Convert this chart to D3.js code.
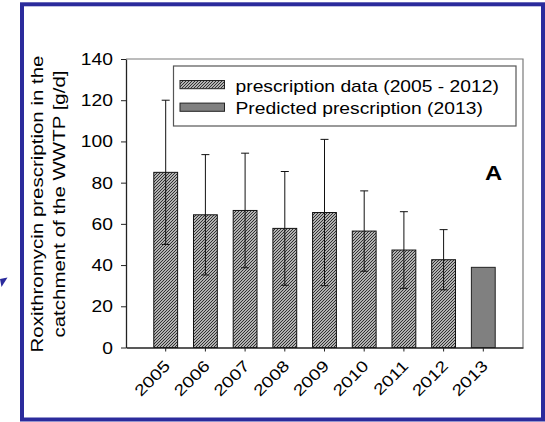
<!DOCTYPE html>
<html>
<head>
<meta charset="utf-8">
<script src="https://cdn.jsdelivr.net/npm/d3@7"></script>
<style>
  html, body { margin: 0; padding: 0; background: #fff; }
  svg { display: block; }
  text { font-family: "Liberation Sans", Arial, sans-serif; fill: #000; }
</style>
</head>
<body>
<svg id="chart" width="545" height="422"></svg>
<script>
// Roxithromycin prescription in the WWTP catchment, yearly means with SD
const years = ["2005", "2006", "2007", "2008", "2009", "2010", "2011", "2012", "2013"];
const prescriptionYears = ["2005", "2006", "2007", "2008", "2009", "2010", "2011", "2012"];
const prescriptionMean = [85.0, 64.4, 66.5, 57.8, 65.5, 56.5, 47.3, 42.6];
const prescriptionSD = [35.0, 29.2, 27.8, 27.6, 35.5, 19.5, 18.6, 14.6];
const predictedYears = ["2013"];
const predictedValue = [38.9];
const yTicks = [0, 20, 40, 60, 80, 100, 120, 140];
const legendLabels = ["prescription data (2005 - 2012)", "Predicted prescription (2013)"];
const yTitleLines = ["Roxithromycin prescription in the", "catchment of the WWTP [g/d]"];
const panelLabel = "A";

const svg = d3.select("#chart");
const S = 1.22; // horizontal glyph stretch used for all labels
const FS = 15.8;

const margin = { left: 126, right: 523, top: 59, bottom: 347.5 };

// outer blue frame
svg.append("rect")
  .attr("x", 22).attr("y", 4.3).attr("width", 521).attr("height", 415.2)
  .attr("fill", "#fff").attr("stroke", "#2b2b9c").attr("stroke-width", 4);

// small blue arrowhead at the left edge
svg.append("path")
  .attr("d", "M0,279 L7.5,277.5 L1.5,287 Z")
  .attr("fill", "#2b2b9c");

const defs = svg.append("defs");
const pat = defs.append("pattern")
  .attr("id", "hatch").attr("patternUnits", "userSpaceOnUse")
  .attr("width", 3).attr("height", 3);
pat.append("rect").attr("width", 3).attr("height", 3).attr("fill", "#ececec");
pat.append("path")
  .attr("d", "M-1,1 L1,-1 M0,3 L3,0 M2,4 L4,2")
  .attr("stroke", "#2a2a2a").attr("stroke-width", 1.15);

const x = d3.scaleBand()
  .domain(years)
  .range([margin.left, margin.right])
  .paddingInner(0.4)
  .paddingOuter(0.7);

const y = d3.scaleLinear()
  .domain([0, 140])
  .range([margin.bottom, margin.top]);

// top and right frame lines
svg.append("path")
  .attr("d", `M${margin.left},${margin.top} H${margin.right} V${margin.bottom}`)
  .attr("fill", "none").attr("stroke", "#7a7a7a").attr("stroke-width", 1.2);

// bars: measured data
svg.append("g").selectAll("rect")
  .data(prescriptionYears.map((d, i) => ({ year: d, v: prescriptionMean[i] })))
  .join("rect")
  .attr("x", d => x(d.year))
  .attr("y", d => y(d.v))
  .attr("width", x.bandwidth())
  .attr("height", d => y(0) - y(d.v))
  .attr("fill", "url(#hatch)")
  .attr("stroke", "#111").attr("stroke-width", 1);

// bar: predicted value
svg.append("g").selectAll("rect")
  .data(predictedYears.map((d, i) => ({ year: d, v: predictedValue[i] })))
  .join("rect")
  .attr("x", d => x(d.year))
  .attr("y", d => y(d.v))
  .attr("width", x.bandwidth())
  .attr("height", d => y(0) - y(d.v))
  .attr("fill", "#808080")
  .attr("stroke", "#222").attr("stroke-width", 1);

// error bars (mean ± SD)
const eb = svg.append("g").attr("stroke", "#111").attr("stroke-width", 1).attr("fill", "none");
prescriptionYears.forEach((yr, i) => {
  const cx = x(yr) + x.bandwidth() / 2;
  const lo = y(prescriptionMean[i] - prescriptionSD[i]);
  const hi = y(prescriptionMean[i] + prescriptionSD[i]);
  eb.append("path")
    .attr("d", `M${cx},${lo} V${hi} M${cx - 4},${hi} H${cx + 4} M${cx - 4},${lo} H${cx + 4}`);
});

// y axis
const yAxis = svg.append("g")
  .attr("transform", `translate(${margin.left},0)`)
  .call(d3.axisLeft(y).tickValues(yTicks).tickSize(5).tickSizeOuter(0));
yAxis.select(".domain").attr("stroke", "#222").attr("stroke-width", 1.3);
yAxis.selectAll(".tick line").attr("stroke", "#222");
yAxis.selectAll("text")
  .attr("x", null).attr("dy", "0.35em")
  .style("font-size", FS + "px")
  .style("font-family", "'Liberation Sans', Arial, sans-serif")
  .attr("fill", "#000")
  .attr("transform", `translate(-13,0) scale(${S},1)`);

// x axis
const xAxis = svg.append("g")
  .attr("transform", `translate(0,${margin.bottom})`)
  .call(d3.axisBottom(x).tickSize(4).tickSizeOuter(0));
xAxis.select(".domain").attr("stroke", "#222").attr("stroke-width", 1.3);
xAxis.selectAll(".tick line").attr("stroke", "#222");
xAxis.selectAll("text")
  .attr("y", null).attr("dy", null)
  .style("font-size", FS + "px")
  .style("font-family", "'Liberation Sans', Arial, sans-serif")
  .style("text-anchor", "end")
  .attr("fill", "#000")
  .attr("transform", `translate(5.5,19.5) rotate(-45) scale(${S},1)`);

// y-axis title, two lines
const yTitle = svg.append("g").attr("transform", "translate(0,204)");
yTitleLines.forEach((t, i) => {
  yTitle.append("text")
    .attr("transform", `translate(${42.5 + i * 22.3},0) rotate(-90) scale(${S},1)`)
    .attr("text-anchor", "middle")
    .style("font-size", "16.8px")
    .text(t);
});

// legend
const lg = svg.append("g");
lg.append("rect")
  .attr("x", 173.5).attr("y", 66).attr("width", 342.5).attr("height", 60)
  .attr("fill", "#fff").attr("stroke", "#555").attr("stroke-width", 1.2);
const swatchFill = ["url(#hatch)", "#808080"];
legendLabels.forEach((t, i) => {
  const yy = 80.5 + i * 22.6;
  lg.append("rect")
    .attr("x", 180).attr("y", yy).attr("width", 44.5).attr("height", 8.2)
    .attr("fill", swatchFill[i]).attr("stroke", "#222").attr("stroke-width", 1);
  lg.append("text")
    .attr("transform", `translate(235.5,${91.7 + i * 22.4}) scale(${S},1)`)
    .style("font-size", "15.8px")
    .text(t);
});

// panel label
svg.append("text")
  .attr("transform", `translate(485,180) scale(${S},1)`)
  .style("font-size", "19.5px").style("font-weight", "bold")
  .text(panelLabel);
</script>
</body>
</html>
